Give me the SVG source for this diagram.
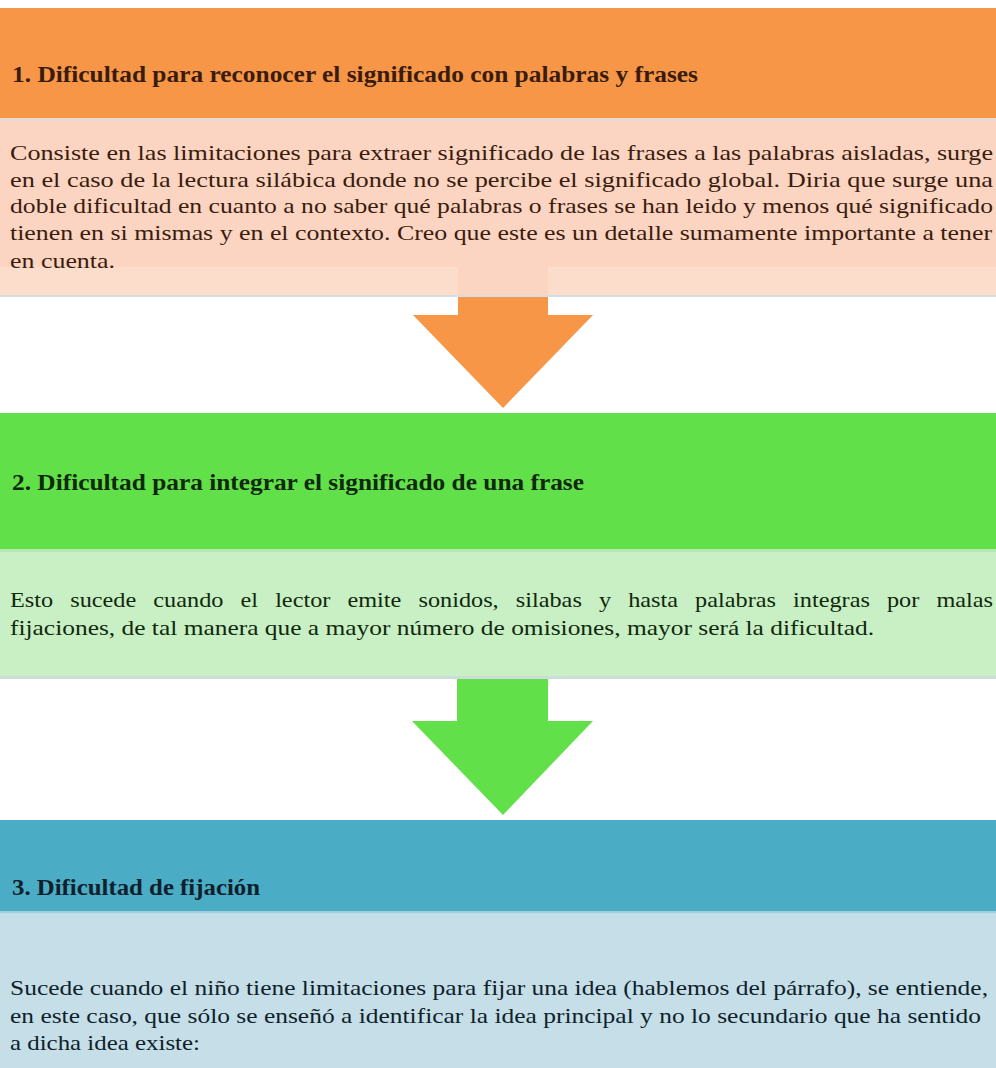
<svg xmlns="http://www.w3.org/2000/svg" width="996" height="1068" viewBox="0 0 996 1068">
<style>
.hd{font-family:"Liberation Serif","Times New Roman",serif;font-weight:bold;font-size:23px}
.bd{font-family:"Liberation Serif","Times New Roman",serif;font-size:22px}
.c1{fill:#3a1c0e}
.c2{fill:#10280c}
.c3{fill:#0f1f2b}
</style>
<rect width="996" height="1068" fill="#ffffff"/>
<g id="connectors">
<polygon points="458,296 548,296 548,315 593,315 503,408 413,315 458,315" fill="#F79646"/>
<polygon points="457,679 548,679 548,721 593,721 503,815 412,721 457,721" fill="#62E04A"/>
</g>
<g id="node1">
<rect x="0" y="8" width="996" height="110" fill="#F79646"/>
<rect x="0" y="118" width="996" height="179" fill="#FBD5C1"/>
<rect x="0" y="118" width="996" height="3" fill="#EADBD0"/>
<rect x="0" y="267" width="458" height="28" fill="#FCDDCC"/>
<rect x="548" y="267" width="448" height="28" fill="#FCDDCC"/>
<rect x="0" y="295" width="996" height="2" fill="#D6DEE0"/>
<text class="hd c1" x="12" y="82" textLength="686" lengthAdjust="spacingAndGlyphs">1. Dificultad para reconocer el significado con palabras y frases</text>
<text class="bd c1" x="10" y="160" textLength="983" lengthAdjust="spacingAndGlyphs">Consiste en las limitaciones para extraer significado de las frases a las palabras aisladas, surge</text>
<text class="bd c1" x="10" y="187" textLength="983" lengthAdjust="spacingAndGlyphs">en el caso de la lectura silábica donde no se percibe el significado global. Diria que surge una</text>
<text class="bd c1" x="10" y="213" textLength="983" lengthAdjust="spacingAndGlyphs">doble dificultad en cuanto a no saber qué palabras o frases se han leido y menos qué significado</text>
<text class="bd c1" x="10" y="240" textLength="982" lengthAdjust="spacingAndGlyphs">tienen en si mismas y en el contexto. Creo que este es un detalle sumamente importante a tener</text>
<text class="bd c1" x="10" y="268" textLength="105" lengthAdjust="spacingAndGlyphs">en cuenta.</text>
</g>
<g id="node2">
<rect x="0" y="413" width="996" height="136" fill="#62E04A"/>
<rect x="0" y="549" width="996" height="129" fill="#C9F0C4"/>
<rect x="0" y="549" width="996" height="3" fill="#B9E7B2"/>
<rect x="0" y="676" width="996" height="3" fill="#CCDDD8"/>
<text class="hd c2" x="12" y="490" textLength="572" lengthAdjust="spacingAndGlyphs">2. Dificultad para integrar el significado de una frase</text>
<text class="bd c2" x="10" y="607" word-spacing="10" textLength="983" lengthAdjust="spacingAndGlyphs">Esto sucede cuando el lector emite sonidos, silabas y hasta palabras integras por malas</text>
<text class="bd c2" x="10" y="635" textLength="864" lengthAdjust="spacingAndGlyphs">fijaciones, de tal manera que a mayor número de omisiones, mayor será la dificultad.</text>
</g>
<g id="node3">
<rect x="0" y="820" width="996" height="91" fill="#4BACC6"/>
<rect x="0" y="911" width="996" height="157" fill="#C5DEE7"/>
<rect x="0" y="911" width="996" height="2" fill="#9FD0DE"/>
<text class="hd c3" x="12" y="895" textLength="248" lengthAdjust="spacingAndGlyphs">3. Dificultad de fijación</text>
<text class="bd c3" x="10" y="995" textLength="978" lengthAdjust="spacingAndGlyphs">Sucede cuando el niño tiene limitaciones para fijar una idea (hablemos del párrafo), se entiende,</text>
<text class="bd c3" x="10" y="1023" textLength="971" lengthAdjust="spacingAndGlyphs">en este caso, que sólo se enseñó a identificar la idea principal y no lo secundario que ha sentido</text>
<text class="bd c3" x="10" y="1050" textLength="190" lengthAdjust="spacingAndGlyphs">a dicha idea existe:</text>
</g>
</svg>
